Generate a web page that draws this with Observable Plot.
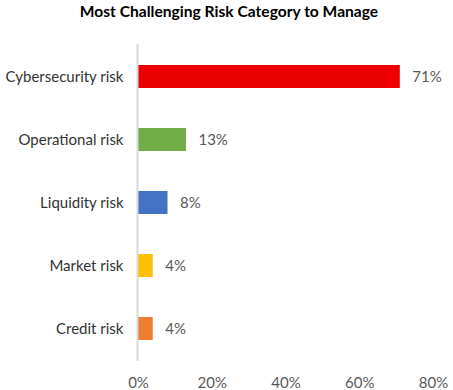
<!DOCTYPE html>
<html>
<head>
<meta charset="utf-8">
<script src="https://cdn.jsdelivr.net/npm/d3@7"></script>
<script src="https://cdn.jsdelivr.net/npm/@observablehq/plot@0.6"></script>
<style>
  html, body { margin: 0; padding: 0; background: #fff; }
  #title { width: 453px; height: 30px; text-align: center; font: bold 15.6px Lato, sans-serif; color: #000; line-height: 20px; padding-top: 1px; box-sizing: border-box; padding-left: 5px; }
  #chart svg { display: block; }
</style>
</head>
<body>
<div id="title">Most Challenging Risk Category to Manage</div>
<div id="chart"></div>
<script>
const categories = ["Cybersecurity risk", "Operational risk", "Liquidity risk", "Market risk", "Credit risk"];
const values = [0.71, 0.13, 0.08, 0.04, 0.04];
const barColors = ["#ee0000", "#70ad47", "#4472c4", "#ffc000", "#ed7d31"];
const xTicks = [0, 0.2, 0.4, 0.6, 0.8];

const data = categories.map((c, i) => ({category: c, value: values[i]}));

const chart = Plot.plot({
  width: 453,
  height: 360,
  marginTop: 14,
  marginBottom: 29,
  marginLeft: 138,
  marginRight: 20,
  style: {fontFamily: "Lato, sans-serif", fontSize: "15px", background: "#fff"},
  x: {domain: [0, 0.8], ticks: xTicks, tickFormat: d3.format(".0%"), label: null},
  y: {domain: categories, paddingInner: 0.64, paddingOuter: 0.32, label: null},
  color: {domain: categories, range: barColors},
  marks: [
    Plot.barX(data, {x: "value", y: "category", fill: "category"}),
    Plot.ruleX([0], {stroke: "#d9d9d9", strokeWidth: 2, dx: -1}),
    Plot.text(data, {x: "value", y: "category", text: d => d3.format(".0%")(d.value), textAnchor: "start", dx: 12, fill: "#595959", fontSize: 15}),
    Plot.axisX({ticks: xTicks, tickFormat: d3.format(".0%"), tickSize: 0, tickPadding: 16, fill: "#595959", label: null, fontSize: 15}),
    Plot.axisY({tickSize: 0, tickPadding: 15, fill: "#333", label: null, fontSize: 15})
  ]
});
document.getElementById("chart").appendChild(chart);
</script>
</body>
</html>
